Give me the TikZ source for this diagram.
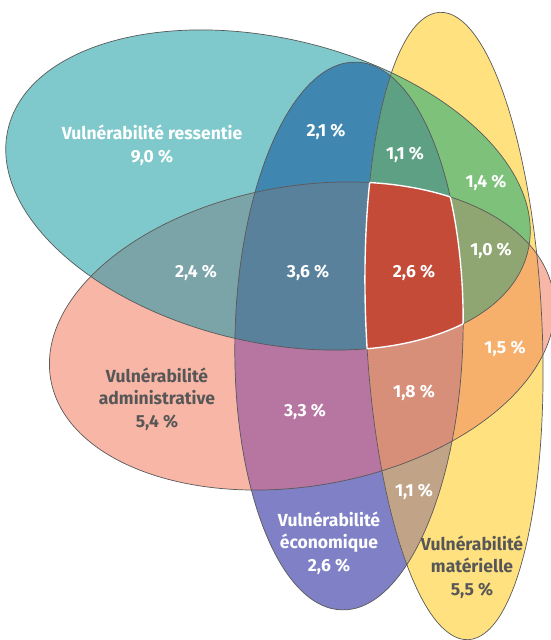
\documentclass[tikz,border=0pt]{standalone}
\usepackage{fontspec}
\setmainfont{Fira Sans}
\usepackage{tikz}

\definecolor{cres}{HTML}{7FC9CC}
\definecolor{cadm}{HTML}{F8B6A6}
\definecolor{ceco}{HTML}{8080C6}
\definecolor{cmat}{HTML}{FFE17F}
\definecolor{cra}{HTML}{7BA4A9}
\definecolor{cre}{HTML}{3F86B0}
\definecolor{crm}{HTML}{7DC17B}
\definecolor{cae}{HTML}{B776A2}
\definecolor{cam}{HTML}{F6B06C}
\definecolor{cem}{HTML}{C1A488}
\definecolor{crae}{HTML}{5A819B}
\definecolor{cram}{HTML}{90A672}
\definecolor{crem}{HTML}{5DA084}
\definecolor{caem}{HTML}{D88F7A}
\definecolor{call}{HTML}{C44B37}
\definecolor{cedge}{HTML}{595959}
\definecolor{ctxt}{HTML}{575757}

\newcommand{\ellres}[1]{\path[#1, rotate around={13.2:(268,190)}] (268,190) ellipse [x radius=267, y radius=152];}
\newcommand{\elladm}[1]{\path[#1, rotate around={-9.75:(302,336)}] (302,336) ellipse [x radius=255, y radius=150];}
\newcommand{\elleco}[1]{\path[#1, rotate around={1.5:(349,336)}] (349,336) ellipse [x radius=114, y radius=274];}
\newcommand{\ellmat}[1]{\path[#1, rotate around={-2.6:(454,326)}] (454,326) ellipse [x radius=88, y radius=314];}

\tikzset{
  lbl/.style={text=white, align=center, inner sep=0pt, font=\fontsize{17.5}{22.5}\selectfont\bfseries},
  lbldark/.style={lbl, text=ctxt}
}

\begin{document}
\begin{tikzpicture}[x=1pt, y=1pt, yscale=-1]
\useasboundingbox (0,0) rectangle (550,640);
% Single sets
\ellres{fill=cres}
\elladm{fill=cadm}
\elleco{fill=ceco}
\ellmat{fill=cmat}
% Pairs
\begin{scope}
  \ellres{clip}
  \elladm{fill=cra}
  \elleco{fill=cre}
  \ellmat{fill=crm}
\end{scope}
\begin{scope}
  \elladm{clip}
  \elleco{fill=cae}
  \ellmat{fill=cam}
\end{scope}
\begin{scope}
  \elleco{clip}
  \ellmat{fill=cem}
\end{scope}
% Triples
\begin{scope}
  \ellres{clip}
  \elladm{clip}
  \elleco{fill=crae}
  \ellmat{fill=cram}
\end{scope}
\begin{scope}
  \ellres{clip}
  \elleco{clip}
  \ellmat{fill=crem}
\end{scope}
\begin{scope}
  \elladm{clip}
  \elleco{clip}
  \ellmat{fill=caem}
\end{scope}
% All four
\begin{scope}
  \ellres{clip}
  \elladm{clip}
  \elleco{clip}
  \ellmat{fill=call}
\end{scope}
% Outlines
\ellres{draw=cedge, line width=0.7pt}
\elladm{draw=cedge, line width=0.7pt}
\elleco{draw=cedge, line width=0.7pt}
\ellmat{draw=cedge, line width=0.7pt}
% White border of the centre
\begin{scope}
  \elladm{clip} \elleco{clip} \ellmat{clip}
  \ellres{draw=white, line width=1.4pt}
\end{scope}
\begin{scope}
  \ellres{clip} \elleco{clip} \ellmat{clip}
  \elladm{draw=white, line width=1.4pt}
\end{scope}
\begin{scope}
  \ellres{clip} \elladm{clip} \ellmat{clip}
  \elleco{draw=white, line width=1.4pt}
\end{scope}
\begin{scope}
  \ellres{clip} \elladm{clip} \elleco{clip}
  \ellmat{draw=white, line width=1.4pt}
\end{scope}
% Labels
\node[lbl] (tres) at (152,145) {Vulnérabilité ressentie\\9,0~\%};
\node[lbl] (tre) at (326,132) {2,1~\%};
\node[lbl] (trem) at (405,155) {1,1~\%};
\node[lbl] (trm) at (486,183) {1,4~\%};
\node[lbl] (tra) at (196,273) {2,4~\%};
\node[lbl] (trae) at (308,273) {3,6~\%};
\node[lbl] (tall) at (414,273) {2,6~\%};
\node[lbl] (tram) at (491,251) {1,0~\%};
\node[lbl] (tam) at (505,349) {1,5~\%};
\node[lbldark] (tadm) at (157,399) {Vulnérabilité\\administrative\\5,4~\%};
\node[lbl] (tae) at (305,412) {3,3~\%};
\node[lbl] (taem) at (414,393) {1,8~\%};
\node[lbl] (tem) at (414,492) {1,1~\%};
\node[lbl] (teco) at (329,543) {Vulnérabilité\\économique\\2,6~\%};
\node[lbldark] (tmat) at (472,567) {Vulnérabilité\\matérielle\\5,5~\%};
\end{tikzpicture}
\end{document}
